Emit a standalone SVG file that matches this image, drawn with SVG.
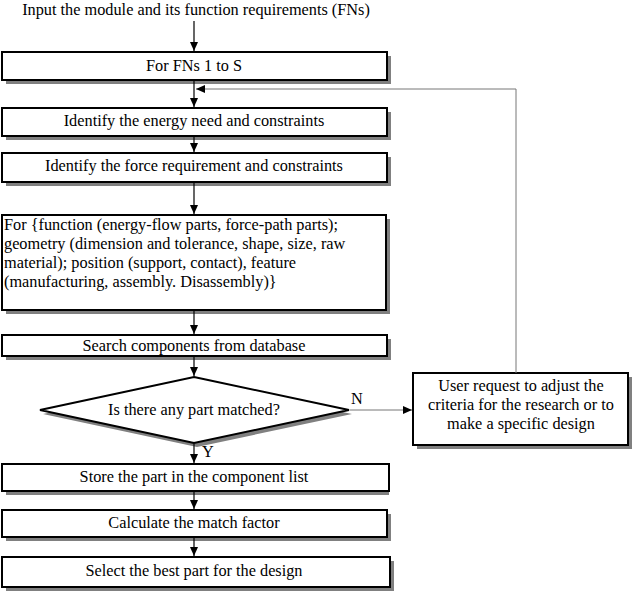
<svg xmlns="http://www.w3.org/2000/svg" width="638" height="598" viewBox="0 0 638 598">
<defs>
<marker id="ah" markerWidth="10" markerHeight="10" refX="9" refY="4" orient="auto" markerUnits="userSpaceOnUse">
<path d="M0,0 L9,4 L0,8 Z" fill="#000"/>
</marker>
</defs>
<style>
.box{fill:#fff;stroke:#000;stroke-width:2}
.sh{fill:#808080}
.t{font-size:16.3px;fill:#000}
.c{text-anchor:middle}
.ln{stroke:#000;stroke-width:1.2;fill:none}
.gl{stroke:#777;stroke-width:1;fill:none}
</style>
<rect width="638" height="598" fill="#fff"/>
<g font-family="'Liberation Serif', 'Times New Roman', serif">
<g id="title"><text class="t c" x="196" y="15">Input the module and its function requirements (FNs)</text></g>
<g id="n1"><rect class="sh" x="6" y="56" width="385" height="28"/><rect class="box" x="2" y="52" width="385" height="28"/><text class="t c" x="194" y="71">For FNs 1 to S</text></g>
<g id="n2"><rect class="sh" x="6" y="112" width="385" height="28"/><rect class="box" x="2" y="108" width="385" height="28"/><text class="t c" x="194" y="126">Identify the energy need and constraints</text></g>
<g id="n3"><rect class="sh" x="6" y="157" width="385" height="29"/><rect class="box" x="2" y="153" width="385" height="29"/><text class="t c" x="194" y="171">Identify the force requirement and constraints</text></g>
<g id="n4"><rect class="sh" x="6" y="219" width="384" height="95"/><rect class="box" x="2" y="215" width="384" height="95"/>
<text class="t" x="4" y="230">For {function (energy-flow parts, force-path parts);</text>
<text class="t" x="4" y="249">geometry (dimension and tolerance, shape, size, raw</text>
<text class="t" x="4" y="268">material); position (support, contact), feature</text>
<text class="t" x="4" y="287">(manufacturing, assembly. Disassembly)}</text></g>
<g id="n5"><rect class="sh" x="6" y="339" width="385" height="21"/><rect class="box" x="2" y="335" width="385" height="21"/><text class="t c" x="194" y="351">Search components from database</text></g>
<g id="d1"><polygon class="sh" points="197,381 352,414 197,447 43,414"/><polygon class="box" points="194,377 349,410 194,443 40,410"/><text class="t c" x="194" y="415">Is there any part matched?</text></g>
<g id="n6"><rect class="sh" x="6" y="468" width="383" height="27"/><rect class="box" x="2" y="464" width="387" height="27"/><text class="t c" x="194" y="482">Store the part in the component list</text></g>
<g id="n7"><rect class="sh" x="6" y="514" width="385" height="27"/><rect class="box" x="2" y="510" width="385" height="27"/><text class="t c" x="194" y="528">Calculate the match factor</text></g>
<g id="n8"><rect class="sh" x="6" y="561" width="388" height="30"/><rect class="box" x="2" y="557" width="388" height="30"/><text class="t c" x="194" y="576">Select the best part for the design</text></g>
<g id="n9"><rect class="sh" x="417" y="377" width="215" height="72"/><rect class="box" x="413" y="373" width="215" height="72"/>
<text class="t c" x="521" y="391">User request to adjust the</text>
<text class="t c" x="521" y="410">criteria for the research or to</text>
<text class="t c" x="521" y="429">make a specific design</text></g>
<g id="connectors">
<line class="ln" x1="194" y1="21" x2="194" y2="51" marker-end="url(#ah)"/>
<line class="ln" x1="194" y1="81" x2="194" y2="107" marker-end="url(#ah)"/>
<line class="ln" x1="194" y1="137" x2="194" y2="152" marker-end="url(#ah)"/>
<line class="ln" x1="194" y1="183" x2="194" y2="214" marker-end="url(#ah)"/>
<line class="ln" x1="194" y1="311" x2="194" y2="334" marker-end="url(#ah)"/>
<line class="ln" x1="194" y1="357" x2="194" y2="376" marker-end="url(#ah)"/>
<line class="ln" x1="194" y1="444" x2="194" y2="463" marker-end="url(#ah)"/>
<line class="ln" x1="194" y1="492" x2="194" y2="509" marker-end="url(#ah)"/>
<line class="ln" x1="194" y1="538" x2="194" y2="556" marker-end="url(#ah)"/>
<line class="gl" x1="350" y1="410" x2="412" y2="410" marker-end="url(#ah)"/>
<polyline class="gl" points="516,373 516,89 196,89" marker-end="url(#ah)"/>
<text class="t" x="351" y="404">N</text>
<text class="t" x="202" y="457">Y</text>
</g>
</g>
</svg>
